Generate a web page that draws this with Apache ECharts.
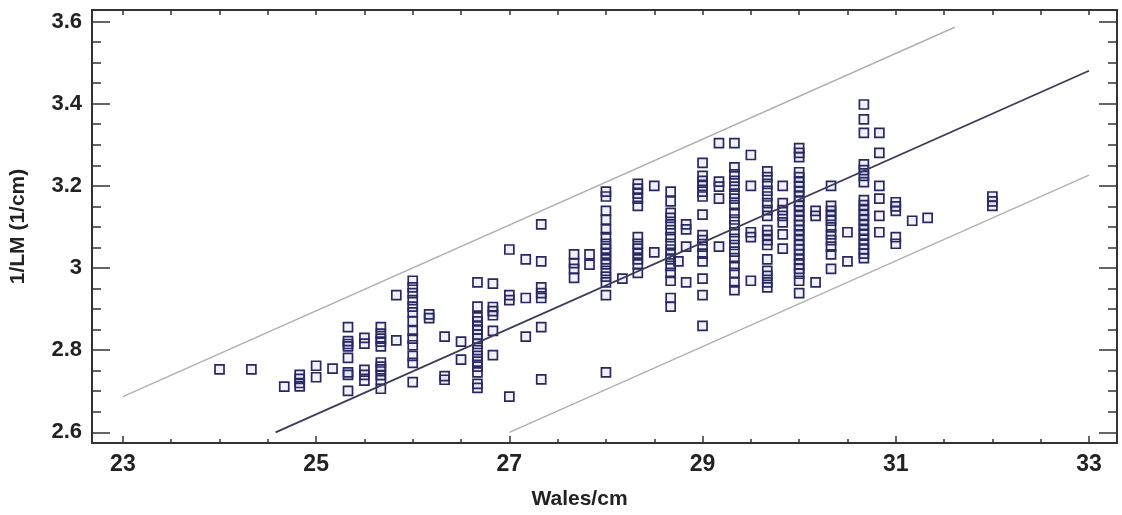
<!DOCTYPE html>
<html>
<head>
<meta charset="utf-8">
<script src="https://cdn.jsdelivr.net/npm/echarts@6/dist/echarts.min.js"></script>
<style>
  html, body { margin: 0; padding: 0; background: #fff; }
  #chart { width: 1122px; height: 515px; }
</style>
</head>
<body>
<div id="chart"></div>
<script>
// wales columns and the 1/LM values
var wales = [24.0, 24.33, 24.67, 24.83, 25.0, 25.17, 25.33, 25.5, 25.67, 25.83,
             26.0, 26.17, 26.33, 26.5, 26.67, 26.83, 27.0, 27.17, 27.33, 27.67,
             27.83, 28.0, 28.17, 28.33, 28.5, 28.67, 28.75, 28.83, 29.0, 29.17,
             29.33, 29.5, 29.67, 29.83, 30.0, 30.17, 30.33, 30.5, 30.67, 30.83,
             31.0, 31.17, 31.33, 32.0];

var invLM = [
    [2.753],
    [2.753],
    [2.711],
    [2.74, 2.73, 2.72, 2.712],
    [2.762, 2.734],
    [2.755],
    [2.856, 2.822, 2.815, 2.809, 2.781, 2.746, 2.74, 2.701],
    [2.83, 2.816, 2.752, 2.74, 2.726],
    [2.856, 2.84, 2.828, 2.821, 2.809, 2.77, 2.76, 2.753, 2.739, 2.727, 2.706],
    [2.934, 2.824],
    [2.969, 2.953, 2.939, 2.922, 2.906, 2.892, 2.871, 2.847, 2.828, 2.812, 2.786, 2.769, 2.722],
    [2.887, 2.878],
    [2.833, 2.737, 2.728],
    [2.821, 2.777],
    [2.965, 2.906, 2.88, 2.87, 2.86, 2.85, 2.838, 2.828, 2.815, 2.8, 2.786, 2.772, 2.76, 2.746, 2.718, 2.708],
    [2.962, 2.905, 2.895, 2.885, 2.847, 2.788],
    [3.045, 2.934, 2.922, 2.687],
    [3.021, 2.927, 2.833],
    [3.106, 3.016, 2.953, 2.939, 2.927, 2.856, 2.729],
    [3.033, 3.012, 2.998, 2.976],
    [3.033, 3.008],
    [3.186, 3.174, 3.139, 3.118, 3.094, 3.075, 3.059, 3.047, 3.035, 3.021, 3.009, 2.993, 2.979, 2.965, 2.934, 2.746],
    [2.974],
    [3.205, 3.193, 3.181, 3.169, 3.151, 3.075, 3.059, 3.047, 3.035, 3.021, 3.009, 2.988],
    [3.2, 3.038],
    [3.186, 3.162, 3.134, 3.122, 3.106, 3.092, 3.075, 3.059, 3.045, 3.033, 3.021, 3.005, 2.988, 2.969, 2.927, 2.906],
    [3.016],
    [3.106, 3.094, 3.052, 2.965],
    [3.256, 3.224, 3.212, 3.2, 3.186, 3.174, 3.13, 3.08, 3.068, 3.052, 3.035, 3.016, 2.974, 2.934, 2.859],
    [3.304, 3.21, 3.198, 3.169, 3.052],
    [3.304, 3.245, 3.228, 3.212, 3.198, 3.181, 3.169, 3.153, 3.134, 3.118, 3.104, 3.087, 3.071, 3.056, 3.04, 3.024, 3.005, 2.988, 2.965, 2.946],
    [3.275, 3.2, 3.087, 3.075, 2.969],
    [3.235, 3.221, 3.205, 3.188, 3.174, 3.158, 3.141, 3.127, 3.092, 3.08, 3.068, 3.056, 3.021, 2.993, 2.981, 2.965, 2.953],
    [3.2, 3.158, 3.141, 3.127, 3.111, 3.082, 3.047],
    [3.292, 3.28, 3.27, 3.233, 3.221, 3.209, 3.198, 3.186, 3.174, 3.162, 3.151, 3.139, 3.127, 3.115, 3.104, 3.092, 3.08, 3.068, 3.056, 3.045, 3.033, 3.021, 3.009, 2.998, 2.986, 2.969, 2.939],
    [3.139, 3.127, 2.965],
    [3.2, 3.151, 3.139, 3.127, 3.115, 3.099, 3.082, 3.068, 3.052, 3.033, 2.998],
    [3.087, 3.016],
    [3.398, 3.362, 3.329, 3.252, 3.238, 3.224, 3.209, 3.165, 3.153, 3.141, 3.129, 3.117, 3.105, 3.093, 3.081, 3.069, 3.057, 3.045, 3.035, 3.024],
    [3.329, 3.28, 3.2, 3.169, 3.127, 3.087],
    [3.16, 3.15, 3.139, 3.075, 3.059],
    [3.115],
    [3.122],
    [3.174, 3.162, 3.151]
];

// fitted line and the two prediction limits (end points)
var fitLine = [[24.58, 2.6], [33.0, 3.48]];
var upperLimit = [[23.0, 2.687], [31.61, 3.586]];
var lowerLimit = [[27.0, 2.6], [33.0, 3.226]];

// ticks
var xMajor = [23, 25, 27, 29, 31, 33];
var xMinor = [23.5, 24, 24.5, 25.5, 26, 26.5, 27.5, 28, 28.5, 29.5, 30, 30.5, 31.5, 32, 32.5];
var xTop = [23, 23.5, 24, 24.5, 25, 25.5, 26, 26.5, 27, 27.5, 28, 28.5, 29, 29.5, 30, 30.5, 31, 31.5, 32, 32.5, 33];
var yMajor = [2.6, 2.8, 3, 3.2, 3.4, 3.6];
var yMinor = [2.65, 2.7, 2.75, 2.85, 2.9, 2.95, 3.05, 3.1, 3.15, 3.25, 3.3, 3.35, 3.45, 3.5, 3.55];

var points = [];
wales.forEach(function (w, i) {
    invLM[i].forEach(function (v) {
        points.push([w, v]);
    });
});

var font = 'Liberation Sans, Arial, sans-serif';
var axisColor = '#333';
var xMin = 22.68, xMax = 33.29, yMin = 2.574, yMax = 3.628;

function xAx(pos, ticks, len, lineOn, labelsOn) {
    return {
        type: 'value', position: pos, min: xMin, max: xMax,
        axisLine: { show: lineOn, onZero: false, lineStyle: { color: axisColor, width: 2 } },
        axisTick: { show: true, inside: true, length: len, customValues: ticks,
                    lineStyle: { color: axisColor, width: 1.5 } },
        axisLabel: { show: labelsOn, customValues: ticks },
        splitLine: { show: false }
    };
}

function yAx(pos, ticks, len, lineOn) {
    return {
        type: 'value', position: pos, min: yMin, max: yMax,
        axisLine: { show: lineOn, onZero: false, lineStyle: { color: axisColor, width: 2 } },
        axisTick: { show: true, inside: true, length: len, customValues: ticks,
                    lineStyle: { color: axisColor, width: 1.5 } },
        axisLabel: { show: false, customValues: ticks },
        splitLine: { show: false }
    };
}

var xBottom = xAx('bottom', xMajor, 7, true, true);
xBottom.axisLabel = {
    show: true, customValues: xMajor, margin: 10,
    fontSize: 23, fontWeight: 'bold', color: '#222', fontFamily: font
};
xBottom.name = 'Wales/cm';
xBottom.nameLocation = 'middle';
xBottom.nameGap = 46;
xBottom.nameTextStyle = { fontSize: 21, fontWeight: 'bold', color: '#222', fontFamily: font, padding: [0, 50, 0, 0] };

var yLeft = yAx('left', yMajor, 18, true);
yLeft.axisLabel = {
    show: true, customValues: yMajor, margin: 10,
    fontSize: 22, fontWeight: 'bold', color: '#222', fontFamily: font
};
yLeft.name = '1/LM (1/cm)';
yLeft.nameLocation = 'middle';
yLeft.nameGap = 63;
yLeft.nameTextStyle = { fontSize: 21, fontWeight: 'bold', color: '#222', fontFamily: font };

var option = {
    backgroundColor: '#fff',
    animation: false,
    grid: { left: 89, right: 5, top: 10, bottom: 62 },
    xAxis: [
        xBottom,
        xAx('bottom', xMinor, 4, false, false),
        xAx('top', xTop, 5, true, false)
    ],
    yAxis: [
        yLeft,
        yAx('left', yMinor, 9, false),
        yAx('right', yMajor, 18, true),
        yAx('right', yMinor, 9, false)
    ],
    series: [
        {
            name: 'upper', type: 'line', data: upperLimit, showSymbol: false, silent: true,
            lineStyle: { color: '#b0b0b0', width: 1.4 }
        },
        {
            name: 'lower', type: 'line', data: lowerLimit, showSymbol: false, silent: true,
            lineStyle: { color: '#b0b0b0', width: 1.4 }
        },
        {
            name: 'points', type: 'scatter', data: points,
            symbol: 'rect', symbolSize: 9,
            itemStyle: { color: 'rgba(50,50,210,0.07)', borderColor: '#28285f', borderWidth: 1.7, opacity: 1 }
        },
        {
            name: 'fit', type: 'line', data: fitLine, showSymbol: false, silent: true, z: 3,
            lineStyle: { color: '#3a3c58', width: 1.8 }
        }
    ]
};

var chart = echarts.init(document.getElementById('chart'));
chart.setOption(option);
</script>
</body>
</html>
